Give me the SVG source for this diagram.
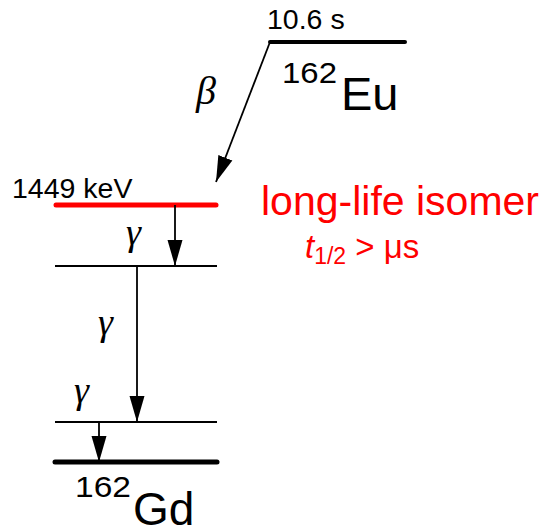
<svg xmlns="http://www.w3.org/2000/svg" width="556" height="531" viewBox="0 0 556 531">
<style>
.t{font-family:"Liberation Sans",Arial,sans-serif;fill:#000}
.g{font-family:"Liberation Serif","DejaVu Serif",serif;font-style:italic;fill:#000}
.r{fill:#ff0000}
.lv{stroke:#000;stroke-width:2;fill:none}
.ar{stroke:#000;stroke-width:1.8;fill:none}
</style>
<defs>
<marker id="ah" markerUnits="userSpaceOnUse" markerWidth="28" markerHeight="16" refX="26" refY="8" orient="auto">
<path d="M0,0.5 L26,8 L0,15.5 Z" fill="#000"/>
</marker>
</defs>
<rect width="556" height="531" fill="#fff"/>
<g id="eu">
<line x1="270" y1="42" x2="405" y2="42" stroke="#000" stroke-width="4" stroke-linecap="round"/>
<text class="t" x="267" y="29" font-size="28.5">10.6 s</text>
<text class="t" x="282" y="83" font-size="30" textLength="55" lengthAdjust="spacingAndGlyphs">162</text>
<text class="t" x="341" y="110" font-size="47">Eu</text>
</g>
<g id="isomer">
<line x1="56" y1="205" x2="216" y2="205" stroke="#ff0000" stroke-width="5" stroke-linecap="round"/>
<text class="t" x="12" y="198" font-size="28.5">1449 keV</text>
<text class="t r" x="261" y="215" font-size="41">long-life isomer</text>
<text class="r" font-family="Liberation Sans,Arial,sans-serif" x="305" y="258" font-size="33"><tspan font-style="italic">t</tspan><tspan font-size="23" dy="6">1/2</tspan><tspan dy="-6"> &gt; μs</tspan></text>
</g>
<g id="level1">
<line class="lv" x1="55" y1="266" x2="217" y2="266"/>
</g>
<g id="level2">
<line class="lv" x1="55" y1="422" x2="217" y2="422"/>
</g>
<g id="gd">
<line x1="55" y1="462" x2="217" y2="462" stroke="#000" stroke-width="5" stroke-linecap="round"/>
<text class="t" x="75" y="497" font-size="30" textLength="56" lengthAdjust="spacingAndGlyphs">162</text>
<text class="t" x="133" y="525" font-size="46">Gd</text>
</g>
<g id="connectors">
<line class="ar" x1="270" y1="42" x2="216" y2="182" marker-end="url(#ah)"/>
<line class="ar" x1="175" y1="205" x2="175" y2="266" marker-end="url(#ah)"/>
<line class="ar" x1="137" y1="266" x2="137" y2="422" marker-end="url(#ah)"/>
<line class="ar" x1="99" y1="422" x2="99" y2="462" marker-end="url(#ah)"/>
<text class="g" x="196" y="104" font-size="40">β</text>
<text class="g" x="126" y="245" font-size="38">γ</text>
<text class="g" x="98" y="335" font-size="38">γ</text>
<text class="g" x="74" y="403" font-size="38">γ</text>
</g>
</svg>
